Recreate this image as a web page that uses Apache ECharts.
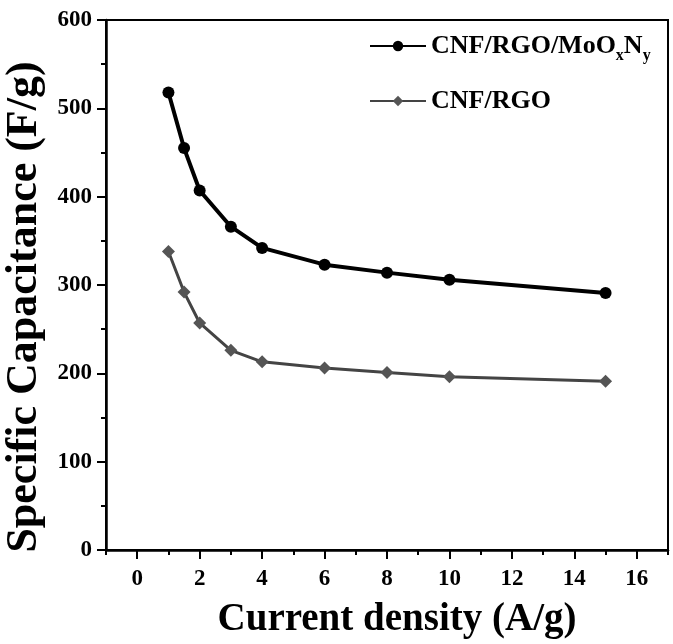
<!DOCTYPE html>
<html><head><meta charset="utf-8">
<script src="https://cdn.jsdelivr.net/npm/echarts@6/dist/echarts.min.js"></script>
<style>html,body{margin:0;padding:0;background:#fff}#c{width:673px;height:644px}</style>
</head><body><div id="c"></div>
<script>
const currentDensity = [1, 1.5, 2, 3, 4, 6, 8, 10, 15];
const capMoOxNy = [518, 455, 407, 366, 342, 323, 314, 306, 291];
const capCNFRGO = [338, 292, 257, 226, 213, 206, 201, 196, 191];
const seriesNames = ['CNF/RGO/MoOxNy', 'CNF/RGO'];
const xMajorTicks = [0, 2, 4, 6, 8, 10, 12, 14, 16];
const xMinorTicks = [-1, 1, 3, 5, 7, 9, 11, 13, 15, 17];

const font = '"Liberation Serif", "Times New Roman", serif';
const chart = echarts.init(document.getElementById('c'));
chart.setOption({
  animation: false,
  backgroundColor: '#fff',
  grid: { left: 106, right: 5, top: 20, bottom: 94, outerBoundsMode: 'none', containLabel: false,
    show: true, borderColor: '#000', borderWidth: 2 },
  legend: {
    left: 364, top: 28, orient: 'vertical', itemGap: 24, itemWidth: 56, itemHeight: 13,
    data: seriesNames,
    formatter: function (n) {
      if (n === 'CNF/RGO/MoOxNy') return '{a|CNF/RGO/MoO}{s|x}{a|N}{s|y}';
      return '{a|' + n + '}';
    },
    textStyle: {
      fontFamily: font, fontWeight: 'bold', color: '#000', fontSize: 26,
      rich: {
        a: { fontFamily: font, fontWeight: 'bold', fontSize: 26, color: '#000' },
        s: { fontFamily: font, fontWeight: 'bold', fontSize: 16, color: '#000', padding: [20, 0, 0, 0] }
      }
    }
  },
  xAxis: [{
    type: 'value', min: -1, max: 17,
    name: 'Current density (A/g)', nameLocation: 'middle', nameGap: 50,
    nameTextStyle: { fontFamily: font, fontWeight: 'bold', fontSize: 39, color: '#000', padding: [0, 0, 0, 20] },
    axisLine: { onZero: false, lineStyle: { color: '#000', width: 2.5 } },
    axisTick: { show: true, length: 9, lineStyle: { color: '#000', width: 2 }, customValues: xMajorTicks },
    axisLabel: { fontFamily: font, fontWeight: 'bold', fontSize: 23, color: '#000', margin: 18,
      customValues: xMajorTicks },
    splitLine: { show: false }
  }, {
    type: 'value', min: -1, max: 17, position: 'bottom',
    axisLine: { show: false, onZero: false },
    axisTick: { show: true, length: 5, lineStyle: { color: '#000', width: 2 }, customValues: xMinorTicks },
    axisLabel: { show: false },
    splitLine: { show: false }
  }],
  yAxis: {
    type: 'value', min: 0, max: 600, interval: 100,
    name: 'Specific Capacitance (F/g)', nameLocation: 'middle', nameGap: 58,
    nameTextStyle: { fontFamily: font, fontWeight: 'bold', fontSize: 44, color: '#000', padding: [0, 44, 0, 0] },
    axisLine: { show: true, onZero: false, lineStyle: { color: '#000', width: 2.5 } },
    axisTick: { show: true, length: 9, lineStyle: { color: '#000', width: 2 } },
    minorTick: { show: true, splitNumber: 2, length: 5, lineStyle: { color: '#000', width: 2 } },
    axisLabel: { fontFamily: font, fontWeight: 'bold', fontSize: 23, color: '#000', margin: 14 },
    splitLine: { show: false }
  },
  series: [
    {
      name: seriesNames[0], type: 'line',
      data: currentDensity.map((x, i) => [x, capMoOxNy[i]]),
      symbol: 'circle', symbolSize: 12,
      lineStyle: { color: '#000', width: 4 },
      itemStyle: { color: '#000' }
    },
    {
      name: seriesNames[1], type: 'line',
      data: currentDensity.map((x, i) => [x, capCNFRGO[i]]),
      symbol: 'diamond', symbolSize: 13,
      lineStyle: { color: '#444', width: 3 },
      itemStyle: { color: '#555' }
    }
  ]
});
</script></body></html>
